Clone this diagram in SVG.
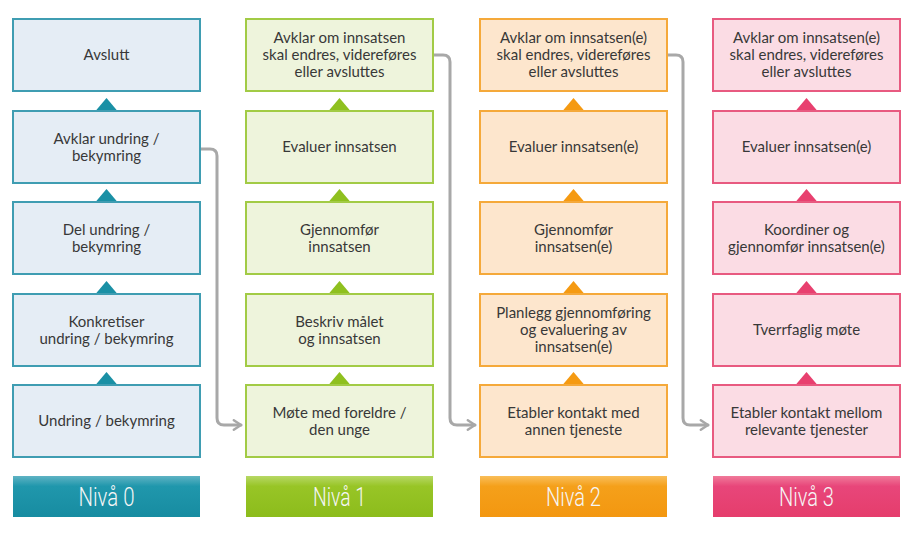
<svg xmlns="http://www.w3.org/2000/svg" width="920" height="536" viewBox="0 0 920 536">
<defs>
<style>
.t{font-family:Lato,"Open Sans","Liberation Sans",sans-serif;font-size:15px;fill:#383838;text-anchor:middle}
.f{font-family:Roboto,"DejaVu Sans","Liberation Sans",sans-serif;font-size:25px;font-weight:300;fill:#f6f6f6;text-anchor:middle}
.b0{fill:#e5edf5;stroke:#3f9db2;stroke-width:2}
.b1{fill:#eef4dc;stroke:#a2cb45;stroke-width:2}
.b2{fill:#fde6cd;stroke:#f5a93a;stroke-width:2}
.b3{fill:#fbdce4;stroke:#e85a80;stroke-width:2}
.a0{fill:#1a90a5}.a1{fill:#8fc01f}.a2{fill:#f59a12}.a3{fill:#e8406f}
.c{fill:none;stroke:#a8a8a8;stroke-width:3;stroke-linecap:round;stroke-linejoin:round}
</style>
<marker id="ar" viewBox="0 0 10 10" refX="8" refY="5" markerWidth="4" markerHeight="4" orient="auto" markerUnits="strokeWidth">
<path d="M2,1 L8,5 L2,9" fill="none" stroke="#a8a8a8" stroke-width="2" stroke-linecap="round" stroke-linejoin="round"/>
</marker>
<linearGradient id="g0" x1="0" y1="0" x2="0" y2="1"><stop offset="0" stop-color="#5fb3c4"/><stop offset="0.25" stop-color="#2097ac"/><stop offset="1" stop-color="#178ca1"/></linearGradient>
<linearGradient id="g1" x1="0" y1="0" x2="0" y2="1"><stop offset="0" stop-color="#b7d866"/><stop offset="0.25" stop-color="#98c526"/><stop offset="1" stop-color="#8cbc1c"/></linearGradient>
<linearGradient id="g2" x1="0" y1="0" x2="0" y2="1"><stop offset="0" stop-color="#f9be5a"/><stop offset="0.25" stop-color="#f5a01a"/><stop offset="1" stop-color="#f39710"/></linearGradient>
<linearGradient id="g3" x1="0" y1="0" x2="0" y2="1"><stop offset="0" stop-color="#f07a9a"/><stop offset="0.25" stop-color="#e8467a"/><stop offset="1" stop-color="#e53d6c"/></linearGradient>
</defs>
<rect width="920" height="536" fill="#ffffff"/>

<g id="connectors">
<path class="c" marker-end="url(#ar)" d="M201,149 H210 Q217,149 217,156 V418 Q217,425 224,425 H241"/>
<path class="c" marker-end="url(#ar)" d="M434,55 H443 Q450,55 450,62 V418 Q450,425 457,425 H475"/>
<path class="c" marker-end="url(#ar)" d="M668,55 H676 Q683,55 683,62 V418 Q683,425 690,425 H708"/>
</g>

<!-- Column 0 -->
<g id="n0-5"><rect class="b0" x="13" y="19" width="187" height="72"/><text class="t" x="106.5" y="60">Avslutt</text></g>
<g id="n0-4"><polygon class="a0" points="95.5,111 106.5,98 117.5,111"/><rect class="b0" x="13" y="111" width="187" height="72"/><text class="t" x="106.5" y="144">Avklar undring /</text><text class="t" x="106.5" y="161">bekymring</text></g>
<g id="n0-3"><polygon class="a0" points="95.5,202 106.5,189 117.5,202"/><rect class="b0" x="13" y="202" width="187" height="72"/><text class="t" x="106.5" y="235">Del undring /</text><text class="t" x="106.5" y="252">bekymring</text></g>
<g id="n0-2"><polygon class="a0" points="95.5,294 106.5,281 117.5,294"/><rect class="b0" x="13" y="294" width="187" height="72"/><text class="t" x="106.5" y="327">Konkretiser</text><text class="t" x="106.5" y="344">undring / bekymring</text></g>
<g id="n0-1"><polygon class="a0" points="95.5,385 106.5,372 117.5,385"/><rect class="b0" x="13" y="385" width="187" height="72"/><text class="t" x="106.5" y="426">Undring / bekymring</text></g>
<g id="f0"><rect x="13" y="476" width="187" height="41" fill="url(#g0)"/><text class="f" x="106.5" y="506" textLength="56" lengthAdjust="spacingAndGlyphs">Nivå 0</text></g>

<!-- Column 1 -->
<g id="n1-5"><rect class="b1" x="246" y="19" width="187" height="72"/><text class="t" x="339.5" y="43">Avklar om innsatsen</text><text class="t" x="339.5" y="60">skal endres, videreføres</text><text class="t" x="339.5" y="77">eller avsluttes</text></g>
<g id="n1-4"><polygon class="a1" points="328.5,111 339.5,98 350.5,111"/><rect class="b1" x="246" y="111" width="187" height="72"/><text class="t" x="339.5" y="152">Evaluer innsatsen</text></g>
<g id="n1-3"><polygon class="a1" points="328.5,202 339.5,189 350.5,202"/><rect class="b1" x="246" y="202" width="187" height="72"/><text class="t" x="339.5" y="235">Gjennomfør</text><text class="t" x="339.5" y="252">innsatsen</text></g>
<g id="n1-2"><polygon class="a1" points="328.5,294 339.5,281 350.5,294"/><rect class="b1" x="246" y="294" width="187" height="72"/><text class="t" x="339.5" y="327">Beskriv målet</text><text class="t" x="339.5" y="344">og innsatsen</text></g>
<g id="n1-1"><polygon class="a1" points="328.5,385 339.5,372 350.5,385"/><rect class="b1" x="246" y="385" width="187" height="72"/><text class="t" x="339.5" y="418">Møte med foreldre /</text><text class="t" x="339.5" y="435">den unge</text></g>
<g id="f1"><rect x="246" y="476" width="187" height="41" fill="url(#g1)"/><text class="f" x="339.5" y="506" textLength="53" lengthAdjust="spacingAndGlyphs">Nivå 1</text></g>

<!-- Column 2 -->
<g id="n2-5"><rect class="b2" x="480" y="19" width="187" height="72"/><text class="t" x="573.5" y="43">Avklar om innsatsen(e)</text><text class="t" x="573.5" y="60">skal endres, videreføres</text><text class="t" x="573.5" y="77">eller avsluttes</text></g>
<g id="n2-4"><polygon class="a2" points="562.5,111 573.5,98 584.5,111"/><rect class="b2" x="480" y="111" width="187" height="72"/><text class="t" x="573.5" y="152">Evaluer innsatsen(e)</text></g>
<g id="n2-3"><polygon class="a2" points="562.5,202 573.5,189 584.5,202"/><rect class="b2" x="480" y="202" width="187" height="72"/><text class="t" x="573.5" y="235">Gjennomfør</text><text class="t" x="573.5" y="252">innsatsen(e)</text></g>
<g id="n2-2"><polygon class="a2" points="562.5,294 573.5,281 584.5,294"/><rect class="b2" x="480" y="294" width="187" height="72"/><text class="t" x="573.5" y="318">Planlegg gjennomføring</text><text class="t" x="573.5" y="335">og evaluering av</text><text class="t" x="573.5" y="352">innsatsen(e)</text></g>
<g id="n2-1"><polygon class="a2" points="562.5,385 573.5,372 584.5,385"/><rect class="b2" x="480" y="385" width="187" height="72"/><text class="t" x="573.5" y="418">Etabler kontakt med</text><text class="t" x="573.5" y="435">annen tjeneste</text></g>
<g id="f2"><rect x="480" y="476" width="187" height="41" fill="url(#g2)"/><text class="f" x="573.5" y="506" textLength="55" lengthAdjust="spacingAndGlyphs">Nivå 2</text></g>

<!-- Column 3 -->
<g id="n3-5"><rect class="b3" x="713" y="19" width="187" height="72"/><text class="t" x="806.5" y="43">Avklar om innsatsen(e)</text><text class="t" x="806.5" y="60">skal endres, videreføres</text><text class="t" x="806.5" y="77">eller avsluttes</text></g>
<g id="n3-4"><polygon class="a3" points="795.5,111 806.5,98 817.5,111"/><rect class="b3" x="713" y="111" width="187" height="72"/><text class="t" x="806.5" y="152">Evaluer innsatsen(e)</text></g>
<g id="n3-3"><polygon class="a3" points="795.5,202 806.5,189 817.5,202"/><rect class="b3" x="713" y="202" width="187" height="72"/><text class="t" x="806.5" y="235">Koordiner og</text><text class="t" x="806.5" y="252">gjennomfør innsatsen(e)</text></g>
<g id="n3-2"><polygon class="a3" points="795.5,294 806.5,281 817.5,294"/><rect class="b3" x="713" y="294" width="187" height="72"/><text class="t" x="806.5" y="335">Tverrfaglig møte</text></g>
<g id="n3-1"><polygon class="a3" points="795.5,385 806.5,372 817.5,385"/><rect class="b3" x="713" y="385" width="187" height="72"/><text class="t" x="806.5" y="418">Etabler kontakt mellom</text><text class="t" x="806.5" y="435">relevante tjenester</text></g>
<g id="f3"><rect x="713" y="476" width="187" height="41" fill="url(#g3)"/><text class="f" x="806.5" y="506" textLength="55" lengthAdjust="spacingAndGlyphs">Nivå 3</text></g>
</svg>
